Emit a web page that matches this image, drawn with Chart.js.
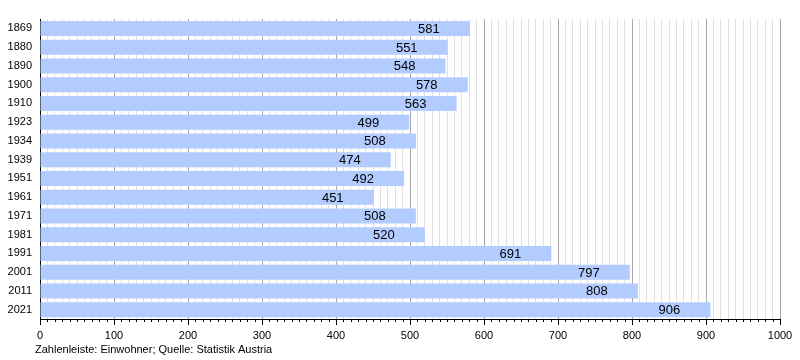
<!DOCTYPE html>
<html>
<head>
<meta charset="utf-8">
<script src="https://cdn.jsdelivr.net/npm/chart.js@4"></script>
<style>
  body { margin: 0; background: #fff; }
  #wrap { width: 800px; height: 360px; }
</style>
</head>
<body>
<div id="wrap"><canvas id="chart" width="800" height="360"></canvas></div>
<script>
// Einwohner nach Volkszählungsjahr
const jahre = ["1869", "1880", "1890", "1900", "1910", "1923", "1934", "1939",
  "1951", "1961", "1971", "1981", "1991", "2001", "2011", "2021"];
const einwohner = [581, 551, 548, 578, 563, 499, 508, 474, 492, 451, 508, 520, 691, 797, 808, 906];
const xTicks = [0, 100, 200, 300, 400, 500, 600, 700, 800, 900, 1000];
const quelle = "Zahlenleiste: Einwohner; Quelle: Statistik Austria";

const schrift = "'Liberation Sans', Arial, sans-serif";

// Werte in die Balken schreiben, Achsenstriche und Quellenangabe
const extras = {
  id: "extras",
  afterDatasetsDraw(chart) {
    const ctx = chart.ctx;
    const meta = chart.getDatasetMeta(0);
    ctx.save();
    ctx.fillStyle = "#000";
    ctx.font = "13px " + schrift;
    ctx.textAlign = "center";
    ctx.textBaseline = "middle";
    meta.data.forEach((bar, i) => {
      ctx.fillText(einwohner[i], bar.x - 41, bar.y + 1);
    });
    ctx.restore();
  },
  afterDraw(chart) {
    const ctx = chart.ctx;
    const x = chart.scales.x;
    const area = chart.chartArea;
    ctx.save();
    ctx.strokeStyle = "#000";
    ctx.lineWidth = 1;
    for (let v = 0; v <= 1000; v += 10) {
      const px = Math.round(x.getPixelForValue(v)) + 0.5;
      const len = v % 100 === 0 ? 6 : 3;
      ctx.beginPath();
      ctx.moveTo(px, area.bottom);
      ctx.lineTo(px, area.bottom + len);
      ctx.stroke();
    }
    ctx.fillStyle = "#000";
    ctx.font = "11px " + schrift;
    ctx.textAlign = "left";
    ctx.textBaseline = "middle";
    ctx.fillText(quelle, 35, 350);
    ctx.restore();
  }
};

new Chart(document.getElementById("chart"), {
  type: "bar",
  data: {
    labels: jahre,
    datasets: [{
      data: einwohner,
      backgroundColor: "#b3ccff",
      borderWidth: 0,
      barPercentage: 0.8,
      categoryPercentage: 1.0
    }]
  },
  options: {
    indexAxis: "y",
    responsive: false,
    animation: false,
    layout: { padding: { top: 19, right: 20, bottom: 0, left: 0 } },
    plugins: {
      legend: { display: false },
      tooltip: { enabled: false }
    },
    scales: {
      x: {
        min: 0,
        max: 1000,
        afterBuildTicks(scale) {
          const t = [];
          for (let v = 0; v <= 1000; v += 10) t.push({ value: v });
          scale.ticks = t;
        },
        afterFit(scale) {
          scale.height = 41;
          scale.paddingRight = 0;
          scale.paddingLeft = 0;
        },
        ticks: {
          autoSkip: false,
          maxRotation: 0,
          padding: 10,
          color: "#000",
          font: { size: 11, family: schrift },
          callback: v => xTicks.includes(v) ? String(v) : ""
        },
        grid: {
          drawTicks: false,
          color: c => (c.tick && c.tick.value % 100 === 0) ? "#a8a8a8" : "#e0e0e0"
        },
        border: { color: "#000", width: 1 }
      },
      y: {
        afterFit(scale) { scale.width = 40; },
        ticks: {
          color: "#000",
          padding: 8,
          font: { size: 11, family: schrift }
        },
        grid: { display: false, drawTicks: false },
        border: { color: "#000", width: 1 }
      }
    }
  },
  plugins: [extras]
});
</script>
</body>
</html>
